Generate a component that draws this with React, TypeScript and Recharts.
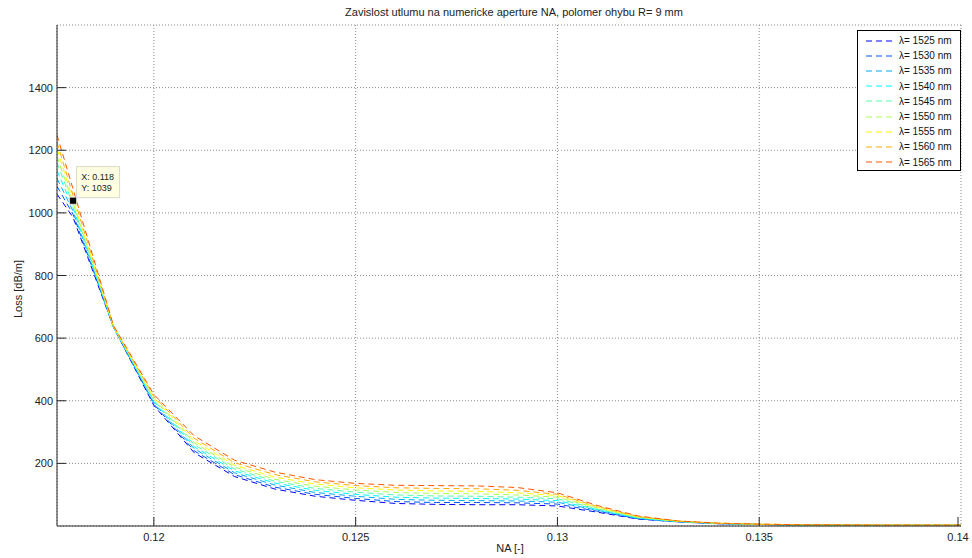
import React from "react";
import {
  LineChart, Line, XAxis, YAxis, CartesianGrid, Legend, ReferenceDot,
} from "recharts";

// NA values (x) and loss per wavelength [dB/m]
const NA = [0.1176, 0.118, 0.119, 0.12, 0.121, 0.122, 0.123, 0.124, 0.125, 0.126, 0.127, 0.128, 0.129, 0.13, 0.131, 0.132, 0.133, 0.134, 0.135, 0.136, 0.138, 0.14];

const loss1525 = [1060, 985, 635, 385, 234, 158, 118, 95, 82, 72, 69, 68, 68, 64, 44, 22, 13, 7, 5, 3, 2, 2];
const loss1530 = [1085, 995, 635, 389, 240, 164, 124, 101, 88, 78, 75, 75, 74, 70, 47, 23, 13, 7, 5, 3, 2, 2];
const loss1535 = [1110, 1005, 635, 393, 247, 170, 131, 107, 95, 85, 82, 81, 80, 76, 50, 24, 14, 8, 5, 3, 2, 2];
const loss1540 = [1135, 1015, 635, 397, 253, 176, 137, 114, 101, 92, 89, 88, 86, 81, 52, 25, 14, 8, 5, 3, 2, 2];
const loss1545 = [1160, 1025, 636, 401, 260, 182, 143, 120, 108, 99, 96, 95, 92, 87, 54, 26, 14, 8, 5, 3, 2, 2];
const loss1550 = [1180, 1032, 636, 405, 266, 188, 149, 127, 115, 107, 104, 103, 99, 92, 57, 28, 15, 8, 5, 3, 3, 3];
const loss1555 = [1205, 1039, 637, 409, 272, 194, 156, 134, 122, 115, 112, 111, 106, 97, 59, 29, 15, 9, 6, 4, 3, 3];
const loss1560 = [1225, 1055, 638, 414, 280, 202, 164, 141, 129, 122, 120, 119, 114, 101, 62, 30, 16, 9, 6, 4, 3, 3];
const loss1565 = [1249, 1075, 640, 420, 288, 210, 172, 148, 136, 130, 129, 128, 123, 106, 65, 32, 16, 9, 6, 4, 3, 3];

const WAVELENGTHS = [1525, 1530, 1535, 1540, 1545, 1550, 1555, 1560, 1565];
const LOSSES = [loss1525, loss1530, loss1535, loss1540, loss1545, loss1550, loss1555, loss1560, loss1565];
// jet(9)
const COLORS = ["#0000ff", "#0055ff", "#00aaff", "#00ffff", "#55ffaa", "#aaff55", "#ffff00", "#ffaa00", "#ff5500"];

const X_TICKS = [0.12, 0.125, 0.13, 0.135, 0.14];
const Y_TICKS = [200, 400, 600, 800, 1000, 1200, 1400];

const TIP_X = 0.118;
const TIP_Y = 1039;

const FONT = "'Liberation Sans', Arial, Helvetica, sans-serif";
const PLOT_LEFT = 57;
const PLOT_BOTTOM = 526;
const TICK_LEN = 9;

const data = NA.map((na, i) => {
  const row: Record<string, number> = { na };
  WAVELENGTHS.forEach((w, k) => { row[`l${w}`] = LOSSES[k][i]; });
  return row;
});

// MATLAB-style ticks: label outside, tick mark pointing into the axes
function YTick({ y, payload }: any) {
  return (
    <g>
      <line x1={PLOT_LEFT} x2={PLOT_LEFT + TICK_LEN} y1={y} y2={y} stroke="#262626" />
      <text x={PLOT_LEFT - 4} y={y} textAnchor="end" dominantBaseline="central"
        fontSize={11} fontFamily={FONT} fill="#222">{payload.value}</text>
    </g>
  );
}

function XTick({ x, payload }: any) {
  return (
    <g>
      <line x1={x} x2={x} y1={PLOT_BOTTOM} y2={PLOT_BOTTOM - TICK_LEN} stroke="#262626" />
      <text x={x} y={PLOT_BOTTOM + 11} textAnchor="middle" dominantBaseline="central"
        fontSize={11} fontFamily={FONT} fill="#222">{String(payload.value)}</text>
    </g>
  );
}

function LegendBox({ payload }: any) {
  return (
    <div style={{ border: "1px solid #000", background: "#fff", padding: "2px 0 0 0", boxSizing: "border-box", width: 104, height: 141 }}>
      {(payload || []).map((p: any) => (
        <div key={p.value} style={{ display: "flex", alignItems: "center", height: 15.2, fontSize: 10, fontFamily: FONT, color: "#111" }}>
          <svg width={38} height={4}>
            <line x1={8} x2={38} y1={2} y2={2} stroke={p.color} strokeDasharray="6 4" strokeWidth={1} />
          </svg>
          <span style={{ marginLeft: 3, whiteSpace: "nowrap" }}>{p.value}</span>
        </div>
      ))}
    </div>
  );
}

function DataTip({ cx, cy }: any) {
  return (
    <g>
      <rect x={cx + 3.5} y={cy - 34} width={43} height={31} fill="#ffffe1" stroke="#d8d8c8" />
      <text x={cx + 8} y={cy - 24} fontSize={9} fontFamily={FONT} fill="#222" dominantBaseline="central">X: {TIP_X}</text>
      <text x={cx + 8} y={cy - 13} fontSize={9} fontFamily={FONT} fill="#222" dominantBaseline="central">Y: {TIP_Y}</text>
      <rect x={cx - 3.5} y={cy - 3.5} width={7} height={7} fill="#000" stroke="#e8e8d8" strokeWidth={0.8} />
    </g>
  );
}

export default function App() {
  return (
    <div style={{ position: "absolute", left: 0, top: 0, width: 972, height: 558, background: "#fff", fontFamily: FONT }}>
      <div style={{ position: "absolute", left: 0, width: 1028, top: 6, textAlign: "center", fontSize: 11, color: "#222" }}>
        Zavislost utlumu na numericke aperture NA, polomer ohybu R= 9 mm
      </div>
      <div style={{ position: "absolute", left: 18, top: 289, transform: "translate(-50%, -50%) rotate(-90deg)", fontSize: 11, color: "#222", whiteSpace: "nowrap" }}>
        Loss [dB/m]
      </div>
      <div style={{ position: "absolute", left: 510, top: 548, transform: "translate(-50%, -50%)", fontSize: 11, color: "#222" }}>
        NA [-]
      </div>
      <LineChart width={972} height={558} data={data} margin={{ top: 25, right: 11, bottom: 10, left: 7 }}>
        <CartesianGrid stroke="#8a8a8a" strokeDasharray="1 2" />
        <XAxis type="number" dataKey="na" domain={[0.1176, 0.14]} ticks={X_TICKS} allowDataOverflow
          height={22} tick={<XTick />} tickLine={false} axisLine={{ stroke: "#262626" }} />
        <YAxis type="number" domain={[0, 1600]} ticks={Y_TICKS} allowDataOverflow
          width={50} tick={<YTick />} tickLine={false} axisLine={{ stroke: "#262626" }} />
        {WAVELENGTHS.map((w, k) => (
          <Line key={w} type="linear" dataKey={`l${w}`} name={`λ= ${w} nm`} stroke={COLORS[k]}
            strokeWidth={1} strokeDasharray="6 4" dot={false} activeDot={false} isAnimationActive={false} />
        ))}
        <ReferenceDot x={TIP_X} y={TIP_Y} ifOverflow="visible" shape={(p: any) => <DataTip {...p} />} />
        {/* horizontal + middle => no space is reserved for the legend */}
        <Legend content={<LegendBox />} layout="horizontal" verticalAlign="middle" align="center"
          wrapperStyle={{ position: "absolute", left: 857, top: 30, right: "auto", bottom: "auto", width: 104, height: 141 }} />
      </LineChart>
    </div>
  );
}
